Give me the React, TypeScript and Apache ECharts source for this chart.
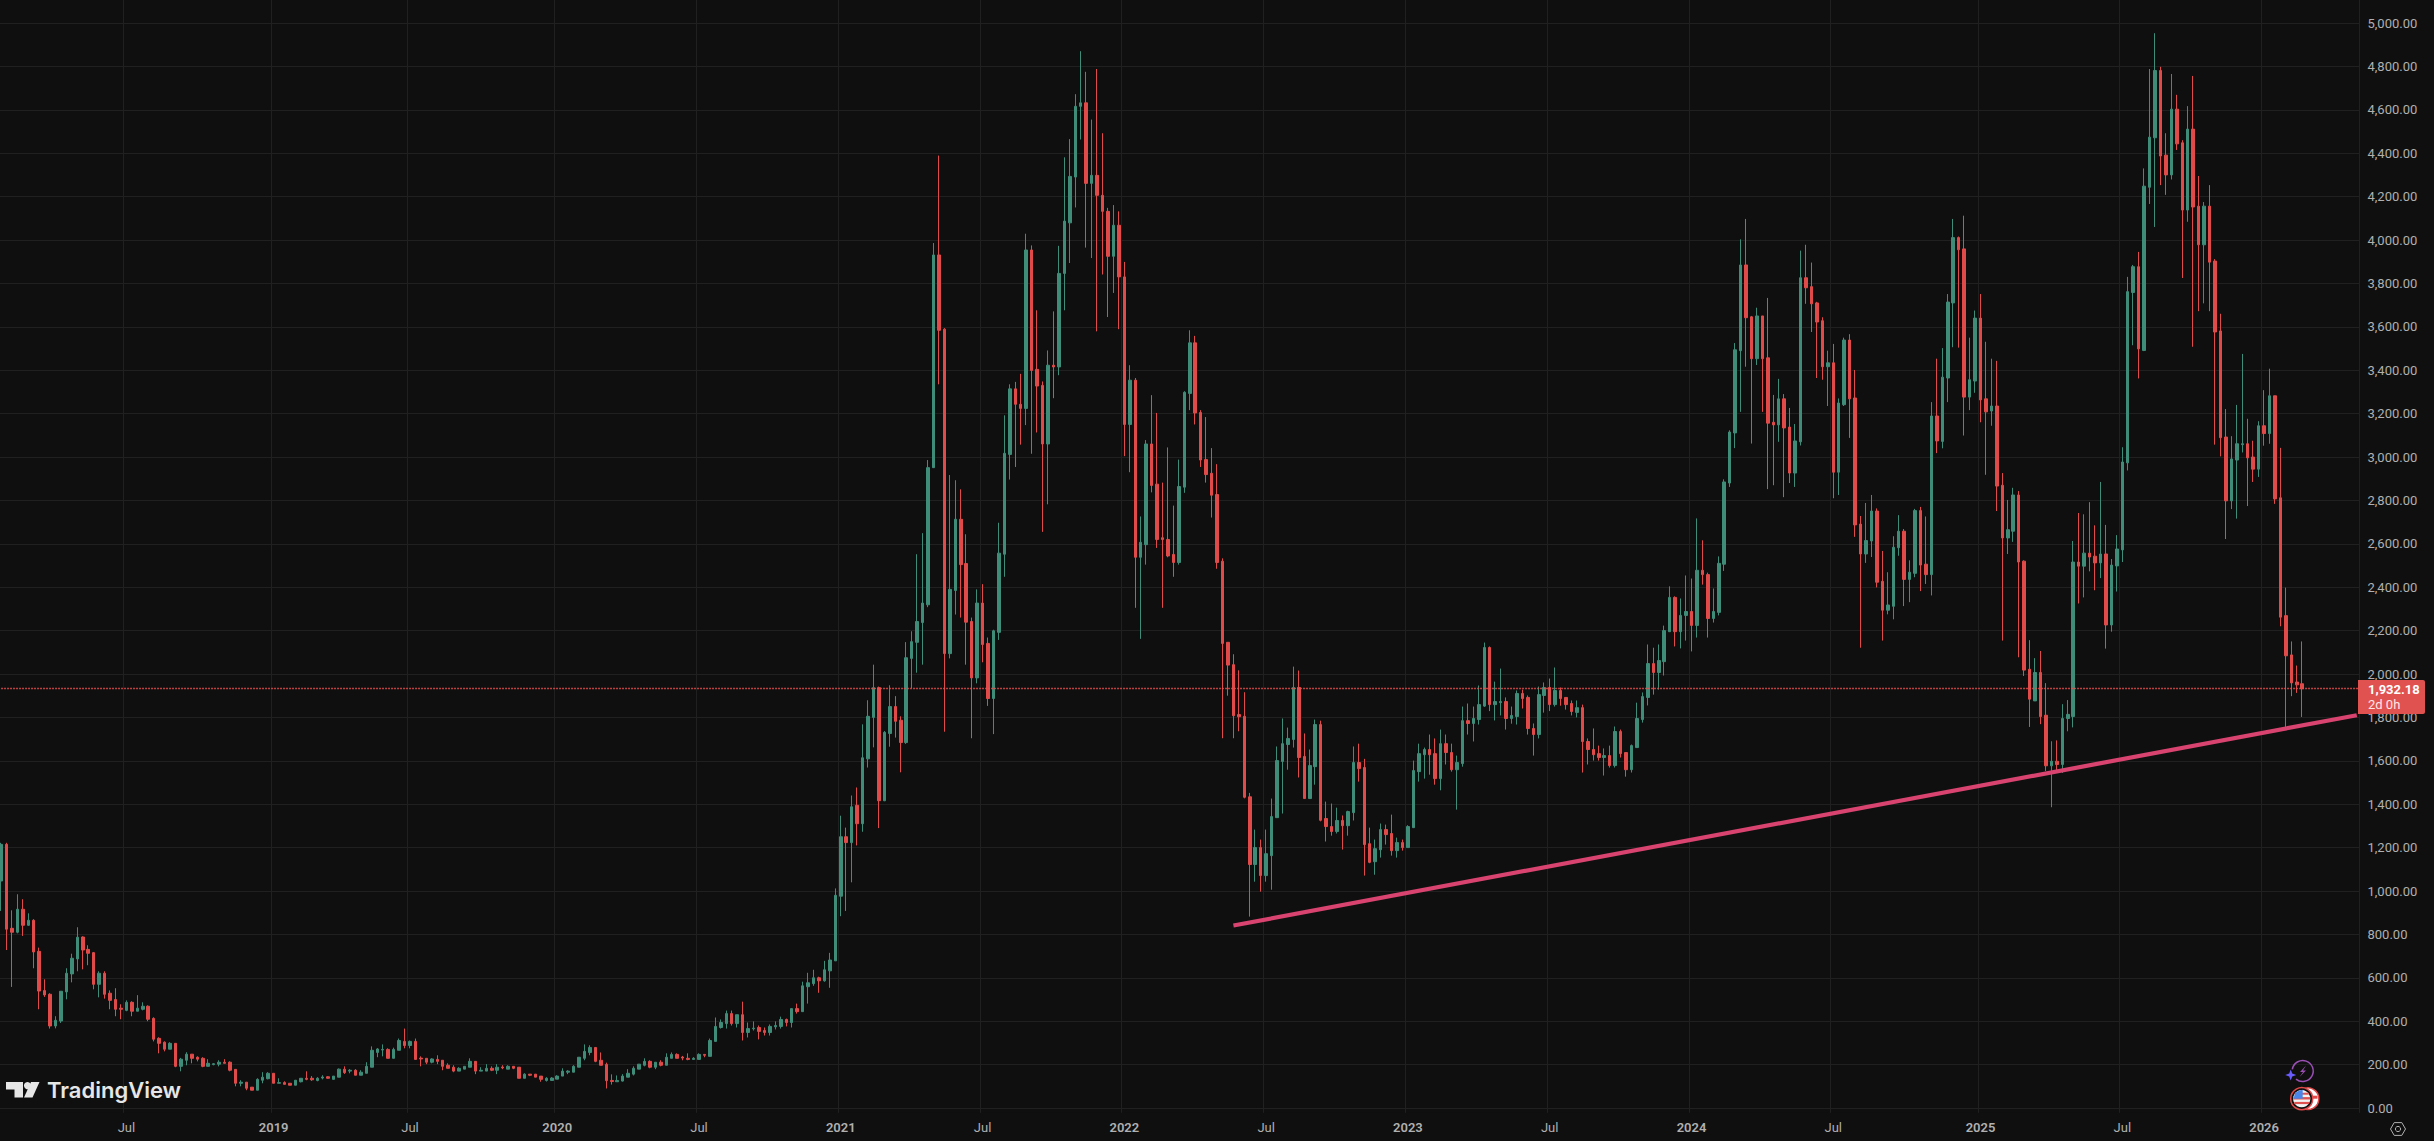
import React, { useEffect, useRef } from "react";
import * as echarts from "echarts";

const firstWeek = "2018-01-22";
const slotCount = 433;

const opens = [
1046,1215,828,810,916,842,865,722,541,524,378,401,535,618,687,788,731,716,570,621,
529,500,460,450,487,446,455,469,413,321,303,271,298,192,220,248,234,229,192,200,
202,211,211,178,114,119,96,82,128,135,160,114,117,114,105,121,137,137,127,138,
144,132,142,179,170,174,151,160,188,256,267,270,229,266,307,288,307,230,229,211,
224,220,197,188,170,179,188,215,170,170,183,174,189,179,192,188,137,156,156,147,
127,127,133,147,165,165,188,229,256,279,220,201,127,121,124,142,156,179,197,215,
188,211,197,229,247,235,229,224,224,247,238,307,371,389,435,389,430,348,365,371,
357,348,374,376,408,394,458,444,559,573,600,586,632,678,976,1250,1223,1395,1310,1609,
1800,1937,1416,1726,1850,1787,1684,2072,2146,2237,2319,2951,3931,3589,2094,2385,2713,2509,2242,1982,
2327,2141,1887,2192,2552,3012,3314,3243,3224,3954,3404,3330,3060,3423,3415,3846,4079,4290,4616,4632,
4261,4298,4206,4132,3925,4068,3830,3150,3354,2538,2596,3060,2875,2628,2620,2551,2514,2861,3293,3526,
3205,2988,2925,2827,2520,2146,2043,1813,1805,1434,1122,1200,1071,1163,1338,1597,1675,1698,1938,1620,
1426,1573,1767,1334,1297,1274,1325,1301,1361,1592,1569,1218,1135,1190,1283,1265,1186,1223,1200,1292,
1550,1628,1652,1633,1518,1679,1638,1559,1587,1785,1772,1790,1852,2122,1859,1868,1873,1795,1804,1910,
1892,1749,1721,1901,1938,1859,1924,1892,1864,1823,1845,1689,1652,1633,1615,1624,1578,1735,1638,1559,
1661,1790,1892,2048,2007,2057,2195,2353,2195,2270,2288,2224,2478,2458,2256,2284,2506,2880,3111,3490,
3885,3646,3453,3650,3457,3160,3148,3268,3138,2926,3070,3826,3785,3710,3628,3416,3434,2930,3241,3539,
3272,2691,2553,2613,2751,2427,2294,2312,2582,2658,2436,2464,2753,2506,2458,3189,3072,3364,3710,4011,
3959,3276,3350,3640,3268,3212,3235,2870,2627,2658,2825,2520,2022,1876,2007,1810,1577,1598,1583,1795,
1804,2516,2497,2557,2543,2512,2553,2226,2498,2572,2973,3758,3877,3491,4243,4471,4781,4391,4300,4603,
4448,4138,4511,4156,3978,4156,3903,3581,3092,2798,2986,3057,3061,3000,2944,3144,3108,3282,2812,2269,
2088,1963,1955,
];

const closes = [
1215,824,810,916,842,865,719,539,521,378,404,538,621,690,787,728,713,570,621,524,
496,455,455,487,446,460,469,409,317,298,271,298,192,225,248,229,225,192,206,204,
211,206,174,114,119,91,82,132,142,160,114,117,109,105,128,137,132,130,137,143,
137,147,179,163,174,151,165,192,266,272,270,229,270,311,288,307,224,226,211,226,
215,192,183,170,183,192,215,170,174,183,174,188,185,192,183,137,156,151,142,132,
137,138,147,170,170,192,234,261,279,215,197,126,122,127,147,160,183,202,215,188,
211,197,234,247,229,230,224,229,247,243,311,376,394,435,389,430,348,366,368,353,
348,376,380,408,394,458,444,563,577,600,586,637,682,980,1250,1223,1388,1310,1614,1805,
1937,1416,1731,1850,1782,1684,2075,2149,2242,2327,2951,3931,3584,2094,2390,2713,2504,2239,1982,2327,
2136,1887,2199,2557,3017,3314,3243,3224,3954,3399,3327,3060,3423,3415,3846,4087,4293,4616,4632,4261,
4298,4206,4132,3925,4068,3830,3150,3354,2538,2607,3060,2869,2620,2620,2544,2514,2864,3298,3526,3203,
2986,2919,2824,2514,2141,2041,1808,1803,1432,1122,1200,1071,1172,1343,1601,1679,1703,1938,1615,1426,
1578,1767,1326,1297,1274,1325,1301,1366,1592,1564,1214,1132,1195,1283,1260,1186,1223,1200,1297,1555,
1633,1652,1628,1518,1679,1638,1559,1592,1785,1772,1795,1859,2122,1859,1873,1873,1795,1809,1910,1887,
1749,1721,1905,1938,1859,1924,1887,1859,1827,1845,1689,1652,1628,1615,1624,1578,1735,1633,1559,1670,
1795,1896,2048,2007,2062,2200,2353,2195,2270,2288,2224,2478,2458,2256,2288,2510,2885,3115,3494,3885,
3642,3453,3650,3453,3156,3148,3268,3134,2926,3074,3826,3780,3706,3622,3416,3434,2930,3249,3539,3268,
2687,2553,2615,2751,2423,2294,2318,2584,2658,2436,2469,2753,2502,2458,3189,3074,3368,3714,4011,3955,
3276,3356,3640,3263,3208,3235,2866,2627,2665,2825,2516,2018,1884,2007,1804,1577,1598,1583,1795,1814,
2516,2497,2557,2539,2512,2553,2226,2502,2576,2977,3762,3877,3498,4248,4474,4781,4387,4300,4603,4443,
4138,4511,4152,3978,4156,3898,3576,3089,2798,2991,3061,3061,2996,2944,3144,3108,3282,2807,2262,2084,
1959,1950,1932.18,
];

const lows = [
908,728,558,805,793,839,644,455,512,366,367,392,501,579,630,639,658,547,510,504,
455,423,409,446,423,446,450,400,307,252,261,271,188,169,197,206,215,188,192,197,
192,206,169,100,100,82,82,82,114,132,114,114,109,105,105,118,128,125,123,132,
135,132,142,157,160,151,151,160,188,234,238,229,229,266,275,275,224,192,202,206,
202,174,183,165,170,179,188,156,170,170,170,156,179,179,179,137,137,147,142,121,
122,125,133,147,156,165,188,220,243,211,197,90,108,121,122,142,150,179,192,183,
179,192,197,229,229,220,220,224,224,234,238,307,366,366,380,371,311,325,357,316,
334,334,362,366,376,371,435,444,481,563,531,582,554,678,884,908,1040,1210,1273,1569,
1662,1290,1414,1665,1707,1547,1678,1935,2006,2043,2308,2951,3335,1734,2072,2274,2260,2043,1704,1957,
2054,1853,1723,2157,2448,2896,2954,3057,3147,3015,3113,2655,2782,3271,3377,3676,3894,4150,4463,3965,
3917,3579,3841,3645,3756,3589,3004,2930,2305,2162,2504,2837,2581,2305,2538,2448,2504,2835,3216,3150,
2954,2882,2721,2485,1704,1900,1704,1736,1427,882,1043,997,1043,1006,1338,1357,1559,1661,1523,1426,
1426,1490,1321,1228,1255,1265,1191,1255,1325,1504,1071,1128,1075,1154,1214,1163,1154,1186,1200,1292,
1504,1518,1536,1490,1464,1583,1550,1375,1573,1721,1689,1767,1848,1829,1786,1809,1744,1771,1767,1841,
1721,1624,1703,1822,1829,1850,1854,1836,1809,1800,1546,1583,1601,1601,1532,1569,1569,1615,1527,1546,
1661,1776,1855,1905,1928,1993,2195,2127,2118,2154,2104,2168,2412,2168,2237,2270,2475,2862,3041,3208,
3416,3062,3424,3208,2852,2870,3070,2815,2880,2862,3053,3706,3576,3364,3356,3235,2810,2825,3235,3088,
2632,2121,2512,2539,2399,2154,2275,2252,2545,2313,2331,2446,2382,2415,2362,3018,3040,3253,3506,3504,
3099,3216,3296,3160,2918,3144,2751,2154,2553,2609,2077,1991,1756,1876,1769,1553,1386,1555,1544,1736,
1754,2325,2353,2473,2386,2442,2117,2195,2380,2516,2938,3515,3362,3488,4166,4060,4253,4208,4279,4415,
3825,4084,3508,3672,3708,3672,3057,3003,2622,2760,2716,3021,2774,2885,2908,3052,3061,2784,2220,1755,
1898,1913,1802,
];

const highs = [
1222,1222,911,985,962,897,870,739,593,529,423,538,644,711,833,791,750,719,630,630,
542,552,478,496,492,520,487,473,418,326,307,303,298,231,257,248,238,234,225,206,
220,225,215,178,128,119,96,137,165,165,160,137,123,114,128,137,169,147,142,151,
147,147,182,192,179,179,174,211,284,276,293,275,278,320,366,311,320,238,229,229,
243,220,206,197,188,192,229,215,188,202,192,202,197,197,192,188,160,156,156,147,
142,142,151,183,174,197,234,293,289,279,256,209,155,150,156,179,192,202,229,220,
211,220,252,256,252,240,252,234,252,247,320,417,408,449,449,430,490,394,399,380,
371,385,399,421,412,458,481,582,623,637,605,678,715,1012,1347,1292,1440,1477,1768,1879,
2043,1942,1737,1948,1898,1805,2147,2197,2552,2649,2986,3986,4389,3594,2917,2893,2851,2644,2260,2390,
2414,2168,2204,2697,3192,3335,3346,3383,4029,3975,3676,3348,3491,3671,3973,4381,4465,4672,4870,4775,
4555,4788,4492,4148,4161,4132,3899,3423,3364,2726,3078,3285,3203,2882,3044,2776,2988,3303,3584,3558,
3216,3184,3041,2967,2533,2146,2091,2017,1916,1452,1283,1237,1283,1426,1666,1795,1753,2034,2016,1726,
1652,1790,1785,1412,1403,1384,1348,1370,1666,1679,1609,1292,1237,1311,1306,1352,1246,1237,1303,1601,
1679,1661,1721,1703,1744,1721,1679,1624,1850,1864,1850,1947,2145,2127,1965,2025,1892,1850,1924,1928,
1901,1772,1942,1961,1979,2030,1938,1892,1878,1878,1859,1703,1749,1670,1657,1670,1758,1744,1638,1675,
1868,1915,2136,2121,2136,2223,2404,2358,2348,2454,2440,2717,2616,2467,2394,2542,2897,3123,3525,4003,
4097,3650,3688,3650,3733,3286,3360,3290,3226,3152,3951,3978,3896,3715,3644,3490,3521,3270,3550,3566,
3401,2728,2788,2825,2763,2567,2469,2635,2732,2668,2524,2761,2770,2726,3253,3453,3502,3751,4097,4016,
4112,3550,3675,3751,3531,3453,3443,2926,2802,2858,2843,2524,2156,2073,2106,1958,1690,1694,1861,1880,
2613,2742,2736,2792,2685,2885,2687,2530,2640,3045,3830,3885,3945,4330,4788,4953,4798,4492,4765,4669,
4460,4617,4756,4295,4175,4253,3912,3660,3221,3096,3240,3475,3176,3075,3165,3308,3407,3282,3042,2398,
2150,2039,2150,
];

const tickDates = [
  "2018-07-02","2019-01-07","2019-07-01","2020-01-06","2020-07-06","2021-01-04","2021-07-05",
  "2022-01-03","2022-07-04","2023-01-02","2023-07-03","2024-01-01","2024-07-01","2025-01-06",
  "2025-07-07","2026-01-05",
];
const tickLabels = [
  "Jul","2019","Jul","2020","Jul","2021","Jul","2022","Jul","2023","Jul","2024","Jul","2025","Jul","2026",
];

const lastPrice = 1932.18;
const lastPriceText = "1,932.18";
const countdownText = "2d 0h";
const trendPoints = [[226, 841], [432, 1810]];

const BG = "#0f0f0f";
const UP = "#3f8c78";
const DOWN = "#e04b4a";
const GRIDC = "#202020";
const TXT = "#b0b0b0";
const FONT = "Roboto, 'Liberation Sans', sans-serif";

const categories: string[] = [];
{
  const t0 = Date.parse(firstWeek + "T00:00:00Z");
  for (let i = 0; i < slotCount; i++) {
    categories.push(new Date(t0 + i * 7 * 86400000).toISOString().slice(0, 10));
  }
}
const isTick = (_i: number, v: string) => tickDates.includes(v);
const candles = opens.map((o, i) => [o, closes[i], lows[i], highs[i]]);

function icons() {
  const cx = 2301.7, cy = 1098.7, bx = 2308;
  return [
    // TradingView logo
    { type: "polygon", z: 20, shape: { points: [[6, 1082], [23, 1082], [23, 1097.5], [14.5, 1097.5], [14.5, 1089.5], [6, 1089.5]] }, style: { fill: "#e6e6e6" } },
    { type: "circle", z: 20, shape: { cx: 27.5, cy: 1085.6, r: 3.6 }, style: { fill: "#e6e6e6" } },
    { type: "polygon", z: 20, shape: { points: [[31, 1082], [39.5, 1082], [32.5, 1097.5], [24, 1097.5]] }, style: { fill: "#e6e6e6" } },
    { type: "text", z: 20, x: 47, y: 1089.5, style: { text: "TradingView", fill: "#e6e6e6", font: "600 22px Inter, sans-serif", verticalAlign: "middle", align: "left" } },
    // lightning badge
    { type: "arc", z: 20, shape: { cx: 2302.7, cy: 1071, r: 10.5, startAngle: -Math.PI * 0.95, endAngle: Math.PI * 0.72 }, style: { stroke: "#9a4fb5", fill: "none", lineWidth: 1.5 } },
    { type: "polygon", z: 20, shape: { points: [[2306, 1065.5], [2300, 1072], [2303, 1072], [2299.5, 1077], [2306, 1070.5], [2303, 1070.5]] }, style: { fill: "#9a4fb5" } },
    { type: "polygon", z: 20, shape: { points: [[2290.7, 1069.5], [2292.2, 1073.5], [2296.2, 1075], [2292.2, 1076.5], [2290.7, 1080.5], [2289.2, 1076.5], [2285.2, 1075], [2289.2, 1073.5]] }, style: { fill: "#6a5cff" } },
    // flag badges
    { type: "circle", z: 20, shape: { cx: bx, cy, r: 10.8 }, style: { fill: "#ffffff", stroke: DOWN, lineWidth: 1.5 } },
    { type: "rect", z: 21, shape: { x: bx + 4, y: cy - 3, width: 5.5, height: 3 }, style: { fill: DOWN } },
    { type: "circle", z: 22, shape: { cx, cy, r: 11 }, style: { fill: "#0f0f0f", stroke: DOWN, lineWidth: 1.5 } },
    { type: "circle", z: 23, shape: { cx, cy, r: 8.6 }, style: { fill: "#f2f2f2" } },
    { type: "rect", z: 24, shape: { x: cx - 7, y: cy - 6, width: 14, height: 2 }, style: { fill: "#e0524f" } },
    { type: "rect", z: 24, shape: { x: cx - 8.4, y: cy - 1.6, width: 16.8, height: 2.4 }, style: { fill: "#e0524f" } },
    { type: "rect", z: 24, shape: { x: cx - 7.4, y: cy + 3.2, width: 14.8, height: 2.2 }, style: { fill: "#e0524f" } },
    { type: "sector", z: 25, shape: { cx: cx + 1, cy: cy, r0: 0, r: 9, startAngle: Math.PI, endAngle: Math.PI * 1.5 }, style: { fill: "#4a86e8" } },
    // settings icon
    { type: "polygon", z: 20, shape: { points: [[2390.5, 1129], [2394.2, 1122.6], [2401.8, 1122.6], [2405.5, 1129], [2401.8, 1135.4], [2394.2, 1135.4]] }, style: { fill: "none", stroke: TXT, lineWidth: 1 } },
    { type: "circle", z: 20, shape: { cx: 2398, cy: 1129, r: 2.6 }, style: { fill: "none", stroke: TXT, lineWidth: 1 } },
  ];
}

export default function App() {
  const ref = useRef<HTMLDivElement>(null);
  useEffect(() => {
    document.body.style.margin = "0";
    document.body.style.background = BG;
    document.body.style.overflow = "hidden";
    const chart = echarts.init(ref.current!, undefined, { renderer: "svg" });
    chart.setOption({
      animation: false,
      backgroundColor: BG,
      tooltip: { show: false },
      grid: { left: -1.73, top: -20.4, width: 2361.23, height: 1171.8, containLabel: false, outerBoundsMode: "none" },
      xAxis: [
        {
          type: "category",
          data: categories,
          position: "bottom",
          boundaryGap: true,
          axisLine: { show: false },
          axisTick: { show: false },
          axisLabel: { show: false },
          splitLine: { show: true, interval: isTick, lineStyle: { color: GRIDC, width: 1 } },
        },
        {
          type: "category",
          data: categories,
          position: "bottom",
          offset: -30,
          z: 5,
          axisLine: { show: false },
          axisTick: { show: false },
          splitLine: { show: false },
          axisLabel: {
            show: true,
            margin: 0,
            interval: isTick,
            hideOverlap: false,
            color: TXT,
            fontFamily: FONT,
            fontSize: 13,
            formatter: (v: string) => {
              const l = tickLabels[tickDates.indexOf(v)] ?? "";
              return l === "Jul" ? l : `{y|${l}}`;
            },
            rich: { y: { color: TXT, fontFamily: FONT, fontSize: 13, fontWeight: 600 } },
          },
        },
      ],
      yAxis: {
        type: "value",
        position: "right",
        min: -200,
        max: 5200,
        interval: 200,
        axisLine: { show: false },
        axisTick: { show: false },
        splitLine: { show: true, lineStyle: { color: GRIDC, width: 1 } },
        axisLabel: {
          color: TXT,
          fontFamily: FONT,
          fontSize: 13,
          margin: 8,
          align: "left",
          formatter: (v: number) =>
            v < 0 || v > 5000
              ? ""
              : v.toLocaleString("en-US", { minimumFractionDigits: 2, maximumFractionDigits: 2 }),
        },
      },
      series: [
        {
          type: "candlestick",
          xAxisIndex: 0,
          data: candles,
          barWidth: 3,
          z: 2,
          itemStyle: { color: UP, color0: DOWN, borderColor: UP, borderColor0: DOWN, borderWidth: 1 },
          markLine: {
            silent: true,
            symbol: ["none", "none"],
            label: { show: false },
            z: 3,
            lineStyle: { color: "#f0514e", type: [1.5, 1.5], width: 1.4 },
            data: [{ yAxis: lastPrice }],
          },
        },
        {
          type: "line",
          xAxisIndex: 0,
          data: trendPoints,
          symbol: "none",
          silent: true,
          z: 4,
          lineStyle: { color: "#d8436f", width: 4.2 },
        },
      ],
      graphic: {
        elements: [
          { type: "rect", z: 4, shape: { x: 0, y: 1112.7, width: 2362, height: 30 }, style: { fill: BG } },
          { type: "rect", z: 10, shape: { x: 2358, y: 680, width: 67, height: 34, r: [0, 2, 2, 0] }, style: { fill: "#e0524f" } },
          { type: "text", z: 11, x: 2368, y: 689.5, style: { text: lastPriceText, fill: "#ffffff", font: `700 13px ${FONT}`, verticalAlign: "middle" } },
          { type: "text", z: 11, x: 2368, y: 704, style: { text: countdownText, fill: "#ffe6e4", font: `400 13px ${FONT}`, verticalAlign: "middle" } },
          ...icons(),
        ],
      },
    });
    return () => chart.dispose();
  }, []);
  return <div ref={ref} style={{ position: "absolute", left: 0, top: 0, width: 2434, height: 1141 }} />;
}
